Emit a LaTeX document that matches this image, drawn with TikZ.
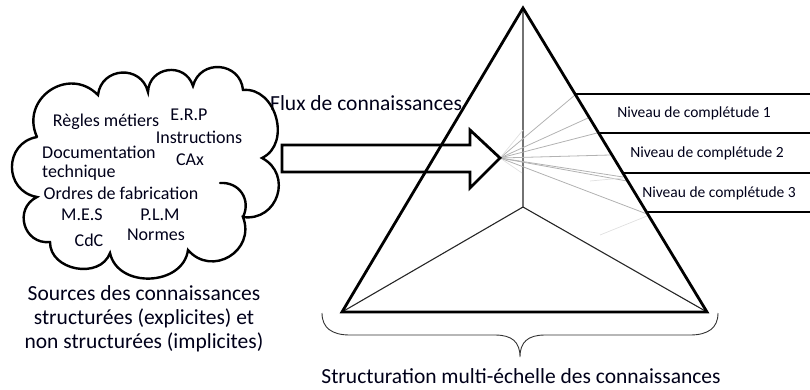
\documentclass[tikz,border=0pt]{standalone}
\usepackage{fontspec}
\setmainfont{Carlito}
\usetikzlibrary{calc}
\begin{document}
\begin{tikzpicture}[x=1pt,y=1pt,
  thickline/.style={line width=2.8pt, line join=miter},
  thinline/.style={line width=1.1pt, draw=black!85},
  ray/.style={line width=0.8pt, draw=black!30},
  fray/.style={line width=0.7pt, draw=black!12},
  puff/.style={bend left=80, looseness=1.45},
  lowpuff/.style={bend left=80, looseness=1.2},
  cloudtxt/.style={font=\fontsize{18}{21}\selectfont, text=black!90!blue, inner sep=0pt},
  bigtxt/.style={font=\fontsize{21.5}{24}\selectfont, text=black!90!blue, inner sep=0pt, align=center},
  lvltxt/.style={font=\fontsize{15.5}{17}\selectfont, text=black!90!blue, inner sep=0pt}]
\useasboundingbox (0,0) rectangle (810,-389);
% pyramid
\coordinate (apex) at (523,-8);
\coordinate (bl) at (342,-312);
\coordinate (br) at (707,-312);
\coordinate (back) at (523,-207);
\draw[thinline] (apex) -- (back) -- (bl);
\draw[thinline] (back) -- (br);
% rays
\coordinate (o) at (500,-158);
\foreach \p in {(575,-95),(588,-118),(597,-133),(610,-155),(623,-177),(627,-181),(647,-214)}
  \draw[ray] (o) -- \p;
\draw[fray] (o) -- (523,-130);
\draw[fray] (o) -- (522,-173);
\draw[fray] (647,-216) -- (600,-235);
\draw[fray] (623,-178) -- (590,-181);
\draw[thickline] (apex) -- (bl) -- (br) -- cycle;
% levels
\coordinate (l1) at (575.1,-94);
\coordinate (l2) at (598.7,-133);
\coordinate (l3) at (622.9,-173);
\coordinate (l4) at (646.5,-212);
\draw[thickline] (l1) -- (810,-94);
\draw[thickline] (l2) -- (810,-133);
\draw[thickline] (l3) -- (810,-173);
\draw[thickline] (l4) -- (810,-212);
\node[lvltxt] (n1) at (694,-113) {Niveau de complétude 1};
\node[lvltxt] (n2) at (707,-153) {Niveau de complétude 2};
\node[lvltxt] (n3) at (719,-193) {Niveau de complétude 3};
% arrow
\draw[thickline] (282,-145) -- (470,-145) -- (470,-130) -- (o) -- (470,-188) -- (470,-172) -- (282,-172) -- cycle;
\node[bigtxt, anchor=west] (flux) at (270,-103) {Flux de connaissances};
% cloud
\draw[line width=2.4pt, line cap=round]
  (37,-137) to[puff] (98,-95) to[puff] (148,-92) to[puff] (193,-86) to[puff] (243,-90)
  to[lowpuff] (262,-158) to[puff] (243,-217) to[puff] (188,-250) to[lowpuff] (110,-253)
  to[lowpuff] (50,-242) to[puff] (37,-197) to[puff] (37,-137);
\draw[line width=2.4pt, line cap=round] (220,-183) to[bend left=60, looseness=1.2] (243,-217);
\node[cloudtxt] (t1) at (106,-122) {Règles métiers};
\node[cloudtxt] (t2) at (189,-115) {E.R.P};
\node[cloudtxt] (t3) at (199,-137) {Instructions};
\node[cloudtxt] (t4) at (190,-160) {CAx};
\node[cloudtxt, anchor=west] (t5) at (42,-152) {Documentation};
\node[cloudtxt, anchor=west] (t6) at (42,-173) {technique};
\node[cloudtxt] (t7) at (121,-193) {Ordres de fabrication};
\node[cloudtxt] (t8) at (82,-215) {M.E.S};
\node[cloudtxt] (t9) at (160,-215) {P.L.M};
\node[cloudtxt] (t10) at (89,-240) {CdC};
\node[cloudtxt] (t11) at (156,-235) {Normes};
\node[bigtxt] (src) at (144,-319) {Sources des connaissances\\structurées (explicites) et\\non structurées (implicites)};
% brace
\draw[line width=0.9pt, draw=black!80] (322,-313) .. controls (322,-328) and (332,-335) .. (350,-335)
  -- (495,-335) .. controls (512,-335) and (520,-342) .. (520,-357)
  .. controls (520,-342) and (528,-335) .. (545,-335) -- (690,-335)
  .. controls (708,-335) and (718,-328) .. (718,-313);
\node[bigtxt] (cap) at (521,-376) {Structuration multi-échelle des connaissances};
\end{tikzpicture}
\end{document}
